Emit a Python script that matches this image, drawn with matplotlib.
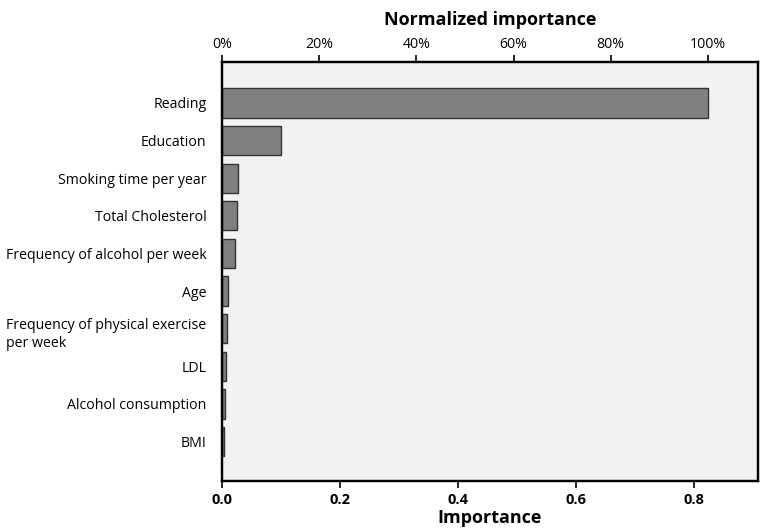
import matplotlib
matplotlib.use("Agg")
import matplotlib.pyplot as plt
import numpy as np

plt.rcParams['font.family'] = ['Open Sans', 'DejaVu Sans']

# feature importances
features = ["Reading", "Education", "Smoking time per year", "Total Cholesterol",
            "Frequency of alcohol per week", "Age",
            "Frequency of physical exercise\nper week", "LDL",
            "Alcohol consumption", "BMI"]
importance = [0.824, 0.100, 0.0276, 0.0254, 0.0226, 0.0107, 0.008, 0.0064, 0.0056, 0.0036]
bottom_ticks = [0.0, 0.2, 0.4, 0.6, 0.8]
top_ticks = [0, 20, 40, 60, 80, 100]

fig = plt.figure(figsize=(7.7, 5.32), dpi=100)
ax = fig.add_axes([0.2883, 0.0959, 0.6961, 0.7876])
ax.set_facecolor("#f2f2f2")

y = np.arange(len(features))
ax.barh(y, importance, height=0.78, color="#808080", edgecolor="#333333", linewidth=1.0)

xmax = 0.909
ax.set_xlim(0, xmax)
ax.set_ylim(len(features) - 1 + 1.05, -1.09)

ax.set_yticks(y)
labels = [f if "\n" not in f else "" for f in features]
ax.set_yticklabels(labels, fontsize=10.2)
ax.tick_params(axis="y", length=0, pad=11)
# the two-line label sits with its first line on the bar
i_multi = [i for i, f in enumerate(features) if "\n" in f][0]
ax.annotate(features[i_multi], xy=(0, i_multi), xycoords=("axes fraction", "data"),
            xytext=(-11, 8), textcoords="offset points", ha="right", va="top",
            multialignment="left", fontsize=10.2, linespacing=1.35)

ax.set_xticks(bottom_ticks)
ax.set_xticklabels([f"{t:.1f}" for t in bottom_ticks], fontsize=10.5, fontweight="bold")
ax.tick_params(axis="x", direction="out", length=5, width=1.2, pad=4)
ax.set_xlabel("Importance", fontsize=13, fontweight="bold", labelpad=1)

for s in ax.spines.values():
    s.set_linewidth(1.6)
    s.set_color("black")

# top axis: importance normalized to the largest value
top = ax.twiny()
top.set_xlim(0, xmax / max(importance) * 100)
top.set_xticks(top_ticks)
top.set_xticklabels([f"{t}%" for t in top_ticks], fontsize=10.2)
top.tick_params(axis="x", direction="out", length=5, width=1.2, pad=2)
top.set_xlabel("Normalized importance", fontsize=13, fontweight="bold", labelpad=9)
for s in top.spines.values():
    s.set_linewidth(1.6)

fig.savefig("out.png", dpi=100)
